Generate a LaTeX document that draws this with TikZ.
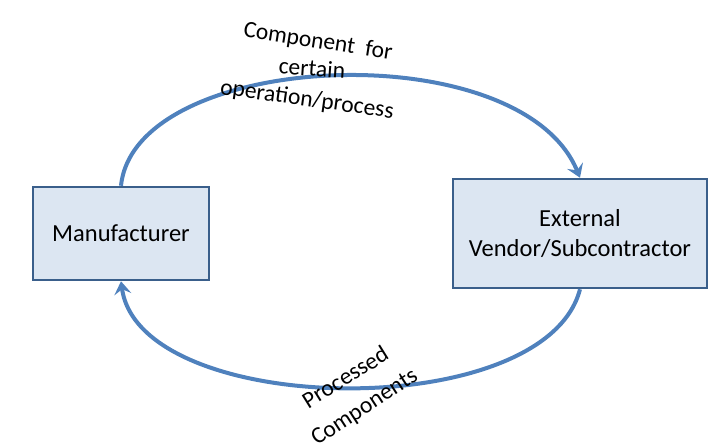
\documentclass[tikz,border=0pt]{standalone}
\usepackage{fontspec}
\setmainfont{Carlito}
\usetikzlibrary{arrows.meta}
\definecolor{boxfill}{HTML}{DCE6F2}
\definecolor{boxline}{HTML}{3A5F8B}
\definecolor{flow}{HTML}{4F81BD}
\tikzset{
  party/.style={draw=boxline, fill=boxfill, line width=2.5pt, minimum width=#1, align=center, font=\fontsize{24.5}{30}\selectfont},
  flowline/.style={draw=flow, line width=4pt, -{Stealth[length=13pt,width=17pt,inset=5pt]}},
  lbl/.style={inner sep=0pt, font=\fontsize{23.5}{25}\selectfont}
}
\begin{document}
\begin{tikzpicture}[x=1pt,y=-1pt]
\useasboundingbox (0,0) rectangle (721,447);
\node[party=176pt, minimum height=93pt] (m) at (121,233.5) {Manufacturer};
\node[party=254pt, minimum height=109pt] (e) at (580,233.5) {External\\[0pt]Vendor/Subcontractor};
\draw[flowline] (m.north) .. controls (135,50) and (520,32) .. (e.north);
\draw[flowline] (e.south) .. controls (545,425) and (140,418) .. (m.south);
\node[lbl, rotate=-9] (t1) at (318,42) {Component\ \ for};
\node[lbl, rotate=-4] (t2) at (312,68) {certain};
\node[lbl, rotate=-8] (t3) at (307,100) {operation/process};
\node[lbl, rotate=32] (b1) at (345,377) {Processed};
\node[lbl, rotate=33] (b2) at (365,408) {Components};
\end{tikzpicture}
\end{document}
